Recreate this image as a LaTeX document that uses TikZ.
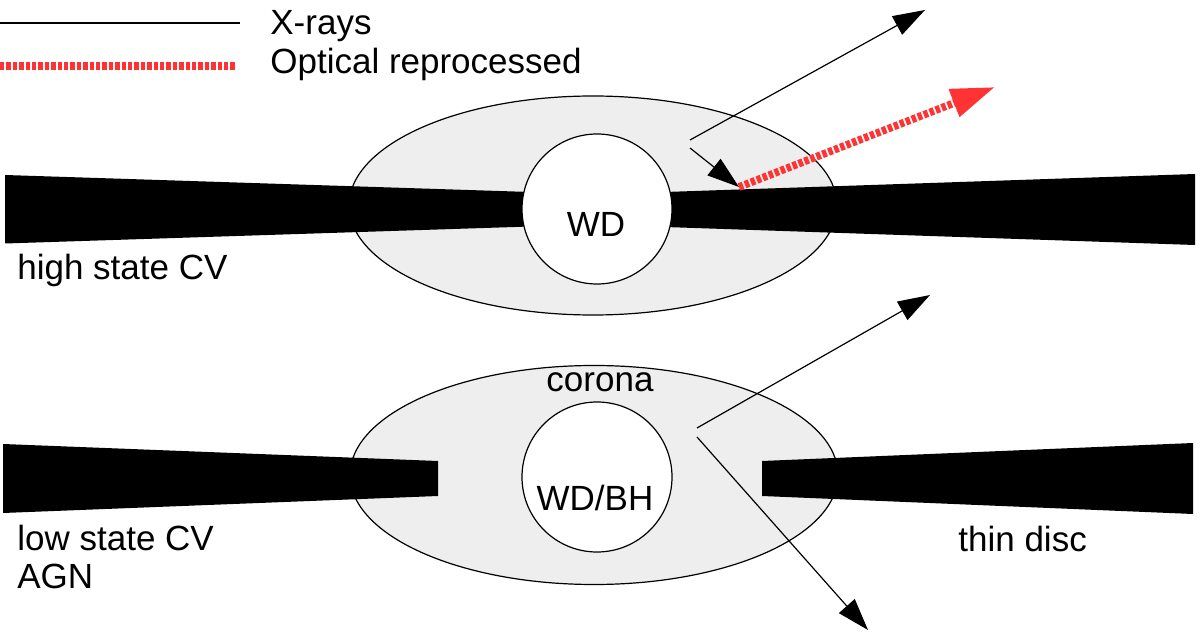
\documentclass[tikz,border=0pt]{standalone}
\usepackage{fontspec}
\setmainfont{Liberation Sans}
\usetikzlibrary{arrows.meta,shapes.geometric}
\definecolor{coronagray}{HTML}{EEEEEE}
\definecolor{optred}{HTML}{FF3333}
\begin{document}
\begin{tikzpicture}[x=0.5pt,y=-0.5pt,
  lbl/.style={font=\fontsize{17.5}{20}\selectfont, inner sep=0pt},
  coronabox/.style={ellipse, draw=black, line width=0.6pt, fill=coronagray, minimum width=244pt, minimum height=109.5pt, inner sep=0pt},
  compact/.style={circle, draw=black, line width=0.6pt, fill=white, minimum size=75pt, inner sep=0pt},
  discfill/.style={fill=black},
  xray/.style={draw=black, line width=0.6pt, -{Triangle[length=16pt,width=10.5pt]}},
  optical/.style={draw=optred, line width=3.8pt, dash pattern=on 2.2pt off 1pt, -{Triangle[length=22pt,width=14pt]}}
]
\useasboundingbox[fill=white] (0,0) rectangle (1200,636);

% legend
\coordinate (lgxa) at (0,23);
\coordinate (lgxb) at (240,23);
\draw[black, line width=0.9pt] (lgxa) -- (lgxb);
\node[lbl, anchor=base west] (lgxt) at (270,35) {X-rays};
\coordinate (lgoa) at (0,66);
\coordinate (lgob) at (236,66);
\draw[optred, line width=3.8pt, dash pattern=on 2.2pt off 1pt] (lgoa) -- (lgob);
\node[lbl, anchor=base west] (lgot) at (270,74) {Optical reprocessed};

% ---------- top: high state CV ----------
\node[coronabox] (topcor) at (593,205.5) {};
\fill[discfill] (5,175) -- (530,192) -- (530,226.5) -- (5,243.5) -- cycle;
\fill[discfill] (665,192) -- (1195,174) -- (1195,245) -- (665,227) -- cycle;
\node[compact] (topwd) at (597,209) {};
\node[lbl, anchor=base] (topwdt) at (596,237) {WD};
\node[lbl, anchor=base west] (hscv) at (17,280) {high state CV};

\coordinate (x1s) at (690,140);
\coordinate (x1e) at (925,10);
\coordinate (x2s) at (690,148);
\coordinate (hit) at (739,187);
\coordinate (opte) at (995,87);
\draw[xray] (x1s) -- (x1e);
\draw[xray] (x2s) -- (hit);
\draw[optical] (hit) -- (opte);

% ---------- bottom: low state CV / AGN ----------
\node[coronabox] (botcor) at (594,475) {};
\fill[discfill] (3,444) -- (438,461) -- (438,496) -- (3,513) -- cycle;
\fill[discfill] (762,461) -- (1193,443) -- (1193,514) -- (762,496) -- cycle;
\node[compact] (botwd) at (597,477) {};
\node[lbl, anchor=base] (corlbl) at (600,392) {corona};
\node[lbl, anchor=base] (botwdt) at (595,510) {WD/BH};
\node[lbl, anchor=base west] (lscv) at (17,550) {low state CV};
\node[lbl, anchor=base west] (agn) at (17,588) {AGN};
\node[lbl, anchor=base west] (thind) at (958,551) {thin disc};

\coordinate (b1s) at (697,428);
\coordinate (b1e) at (930,295);
\coordinate (b2s) at (697,437);
\coordinate (b2e) at (868,630);
\draw[xray] (b1s) -- (b1e);
\draw[xray] (b2s) -- (b2e);
\end{tikzpicture}
\end{document}
